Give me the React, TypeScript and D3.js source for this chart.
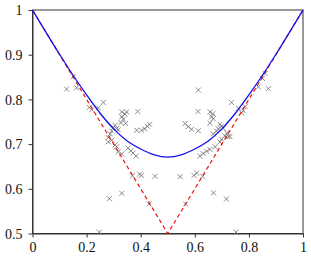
import React, { useEffect, useRef } from "react";
import * as d3 from "d3";

// tick labels
const xTicks = [0, 0.2, 0.4, 0.6, 0.8, 1];
const xTickLabels = ["0", "0.2", "0.4", "0.6", "0.8", "1"];
const yTicks = [0.5, 0.6, 0.7, 0.8, 0.9, 1];
const yTickLabels = ["0.5", "0.6", "0.7", "0.8", "0.9", "1"];

// blue curve
const curveX = [0, 0.05, 0.1, 0.15, 0.2, 0.25, 0.3, 0.35, 0.4, 0.45, 0.5, 0.55, 0.6, 0.65, 0.7, 0.75, 0.8, 0.85, 0.9, 0.95, 1];
const curveY = [1, 0.95, 0.901, 0.854, 0.81, 0.769, 0.734, 0.707, 0.689, 0.676, 0.671, 0.676, 0.689, 0.707, 0.734, 0.769, 0.81, 0.854, 0.901, 0.95, 1];

// red dashed V
const vX = [0, 0.5, 1];
const vY = [1, 0.5, 1];

// scattered samples
const sampleX = [
  0.126, 0.163, 0.151, 0.21, 0.219, 0.243, 0.262, 0.33, 0.342, 0.348, 0.33, 0.336, 0.327, 0.344, 0.389,
  0.305, 0.299, 0.311, 0.317, 0.293, 0.287, 0.28, 0.293, 0.28, 0.305, 0.311, 0.385, 0.403, 0.415, 0.424,
  0.433, 0.353, 0.363, 0.372, 0.383, 0.317, 0.33, 0.396, 0.403, 0.37, 0.453, 0.33, 0.284, 0.431, 0.247,
  0.613, 0.612, 0.656, 0.667, 0.662, 0.668, 0.656, 0.564, 0.576, 0.588, 0.613, 0.736, 0.761, 0.786, 0.779,
  0.773, 0.835, 0.872, 0.86, 0.85, 0.693, 0.699, 0.687, 0.705, 0.681, 0.718, 0.668, 0.724, 0.712, 0.699,
  0.693, 0.73, 0.675, 0.656, 0.644, 0.631, 0.619, 0.546, 0.597, 0.607, 0.629, 0.669, 0.717, 0.566, 0.752
];
const sampleY = [
  0.823, 0.826, 0.851, 0.782, 0.777, 0.781, 0.793, 0.772, 0.767, 0.772, 0.761, 0.756, 0.748, 0.746, 0.773,
  0.742, 0.737, 0.735, 0.732, 0.729, 0.723, 0.715, 0.709, 0.705, 0.698, 0.694, 0.731, 0.731, 0.734, 0.74,
  0.744, 0.691, 0.685, 0.68, 0.673, 0.683, 0.678, 0.633, 0.63, 0.629, 0.628, 0.59, 0.578, 0.566, 0.503,
  0.821, 0.773, 0.772, 0.768, 0.761, 0.757, 0.747, 0.746, 0.739, 0.733, 0.73, 0.793, 0.78, 0.784, 0.775,
  0.77, 0.828, 0.824, 0.858, 0.847, 0.744, 0.74, 0.734, 0.735, 0.729, 0.725, 0.723, 0.717, 0.718, 0.711,
  0.705, 0.717, 0.694, 0.688, 0.684, 0.679, 0.673, 0.627, 0.63, 0.635, 0.628, 0.591, 0.577, 0.566, 0.503
];

const App = () => {
  const ref = useRef<SVGSVGElement | null>(null);

  useEffect(() => {
    const w = 311;
    const h = 259;
    const m = { left: 32.5, right: 8, top: 10, bottom: 25.5 };
    const axisColor = "#333";
    const font = "Liberation Serif, Times New Roman, DejaVu Serif, serif";

    const svg = d3.select(ref.current);
    svg.selectAll("*").remove();

    const x = d3.scaleLinear().domain([0, 1]).range([m.left, w - m.right]);
    const y = d3.scaleLinear().domain([0.5, 1]).range([h - m.bottom, m.top]);

    // frame
    svg
      .append("rect")
      .attr("x", x(0))
      .attr("y", y(1))
      .attr("width", x(1) - x(0))
      .attr("height", y(0.5) - y(1))
      .attr("fill", "none")
      .attr("stroke", axisColor)
      .attr("stroke-width", 1);

    const xAxis = d3
      .axisBottom(x)
      .tickValues(xTicks)
      .tickFormat((d, i) => xTickLabels[i])
      .tickSize(4)
      .tickSizeOuter(0)
      .tickPadding(5);

    const yAxis = d3
      .axisLeft(y)
      .tickValues(yTicks)
      .tickFormat((d, i) => yTickLabels[i])
      .tickSize(4)
      .tickSizeOuter(0)
      .tickPadding(6);

    const gx = svg
      .append("g")
      .attr("transform", "translate(0," + y(0.5) + ")")
      .call(xAxis);
    const gy = svg
      .append("g")
      .attr("transform", "translate(" + x(0) + ",0)")
      .call(yAxis);

    [gx, gy].forEach(g => {
      g.attr("font-family", font).attr("font-size", 14);
      g.select(".domain").attr("stroke", axisColor);
      g.selectAll(".tick line").attr("stroke", axisColor);
      g.selectAll(".tick text").attr("fill", "#111");
    });
    gy.selectAll(".tick text").attr("dy", "0.34em");

    // samples as x marks
    const s = 2.5;
    const pts = sampleX.map((v, i) => [v, sampleY[i]]);
    svg
      .append("g")
      .attr("stroke", "#707070")
      .attr("stroke-width", 0.8)
      .selectAll("path")
      .data(pts)
      .enter()
      .append("path")
      .attr("d", d => {
        const cx = x(d[0]);
        const cy = y(d[1]);
        return `M${cx - s},${cy - s}L${cx + s},${cy + s}M${cx - s},${cy + s}L${cx + s},${cy - s}`;
      });

    const line = d3
      .line<number>()
      .x((d, i) => x(vX[i]))
      .y(d => y(d));

    svg
      .append("path")
      .attr("d", line(vY))
      .attr("fill", "none")
      .attr("stroke", "#ee1111")
      .attr("stroke-width", 1.2)
      .attr("stroke-dasharray", "4,3");

    const curve = d3
      .line<number>()
      .x((d, i) => x(curveX[i]))
      .y(d => y(d))
      .curve(d3.curveMonotoneX);

    svg
      .append("path")
      .attr("d", curve(curveY))
      .attr("fill", "none")
      .attr("stroke", "#1010ee")
      .attr("stroke-width", 1.3);
  }, []);

  return (
    <svg
      ref={ref}
      width={311}
      height={259}
      style={{ position: "absolute", left: 0, top: 0, background: "#fff" }}
    />
  );
};

export default App;
